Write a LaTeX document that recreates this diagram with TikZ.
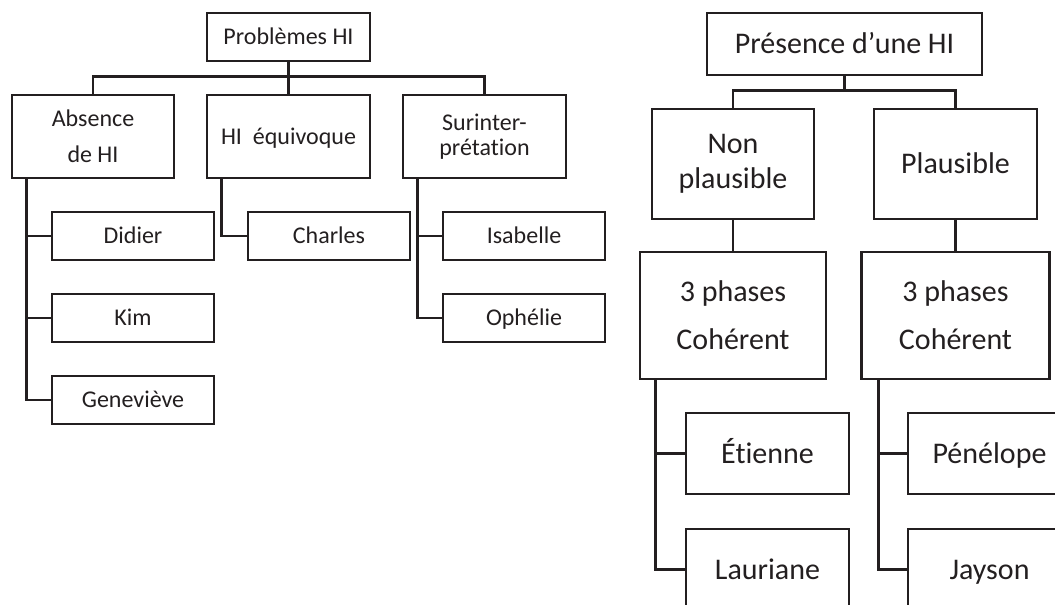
\documentclass[tikz,border=0pt]{standalone}
\usepackage{fontspec}
\setmainfont{Carlito}[RawFeature={-liga;-clig;-calt;-dlig}]
\usetikzlibrary{calc}
\definecolor{ink}{HTML}{231F20}

\begin{document}
\begin{tikzpicture}[x=1pt,y=-1pt,
  box/.style={draw=ink, text=ink, line width=2.8pt, inner sep=0pt, align=center},
  smallfont/.style={font=\fontsize{24}{36}\selectfont},
  bigfont/.style={font=\fontsize{30}{36}\selectfont},
  oneline/.style={text height=15pt, text depth=0pt},
  bigline/.style={text height=19.5pt, text depth=0pt},
  namebox/.style={box, smallfont, oneline, minimum width=162pt, minimum height=48pt},
  catbox/.style={box, smallfont, minimum width=162pt, minimum height=83pt},
  bigname/.style={box, bigfont, bigline, minimum width=163pt, minimum height=81pt},
  link/.style={draw=ink, line width=2.8pt}]

\useasboundingbox (0,0) rectangle (1055,605);
\clip (0,0) rectangle (1055,605);

% ---- Problèmes HI ----
\node[namebox, minimum width=163pt] (prob) at (288.5,37) {Problèmes HI};
\node[catbox] (abs) at (93,136.5) {Absence\\de HI};
\node[catbox, oneline, minimum width=163pt] (equ) at (288.5,136.5) {HI\ \ équivoque};
\node[catbox, font=\fontsize{24}{25}\selectfont, minimum width=163pt] (sur) at (484.5,136.5) {Surinter-\\prétat\kern0pt ion};

\node[namebox] (did) at (133,236) {Didier};
\node[namebox] (kim) at (133,318) {Kim};
\node[namebox] (gen) at (133,400) {Geneviève};
\node[namebox] (cha) at (329,236) {Charles};
\node[namebox] (isa) at (524,236) {Isabelle};
\node[namebox] (oph) at (524,318) {Ophélie};

\draw[link] (prob.south) -- (equ.north);
\draw[link] (abs.north) -- ++(0,-17) -| (sur.north);

\coordinate (absT) at ($(abs.south west)+(16,0)$);
\draw[link] (absT) |- (gen.west);
\draw[link] (did.west) -- (did.west -| absT);
\draw[link] (kim.west) -- (kim.west -| absT);

\coordinate (equT) at ($(equ.south west)+(16,0)$);
\draw[link] (equT) |- (cha.west);

\coordinate (surT) at ($(sur.south west)+(16,0)$);
\draw[link] (surT) |- (oph.west);
\draw[link] (isa.west) -- (isa.west -| surT);

% ---- Présence d'une HI ----
\node[box, bigfont, bigline, minimum width=275pt, minimum height=62pt] (pres) at (844.5,44) {Présence d’une HI};
\node[box, font=\fontsize{30}{35}\selectfont, minimum width=162pt, minimum height=110pt] (nonp) at (733,164) {Non\\plausible};
\node[box, bigfont, bigline, minimum width=163pt, minimum height=110pt] (plau) at (955.5,164) {Plausible};

\node[box, font=\fontsize{30}{48}\selectfont, minimum width=186pt, minimum height=127pt] (ph1) at (733,315.5) {3 phases\\Cohérent};
\node[box, font=\fontsize{30}{48}\selectfont, minimum width=188pt, minimum height=127pt] (ph2) at (955.5,315.5) {3 phases\\Cohérent};

\node[bigname] (eti) at (767.5,453.5) {Étienne};
\node[bigname] (lau) at (767.5,569.5) {Lauriane};
\node[bigname] (pen) at (989.5,453.5) {Pénélope};
\node[bigname] (jay) at (989.5,569.5) {Jayson};

\coordinate (rbar) at ($(nonp.north)+(0,-17)$);
\draw[link] (pres.south) -- (pres.south |- rbar);
\draw[link] (nonp.north) -- (rbar) -| (plau.north);
\draw[link] (nonp.south) -- (ph1.north);
\draw[link] (plau.south) -- (ph2.north);

\coordinate (ph1T) at ($(ph1.south west)+(17,0)$);
\draw[link] (ph1T) |- (lau.west);
\draw[link] (eti.west) -- (eti.west -| ph1T);

\coordinate (ph2T) at ($(ph2.south west)+(18.5,0)$);
\draw[link] (ph2T) |- (jay.west);
\draw[link] (pen.west) -- (pen.west -| ph2T);
\end{tikzpicture}
\end{document}
